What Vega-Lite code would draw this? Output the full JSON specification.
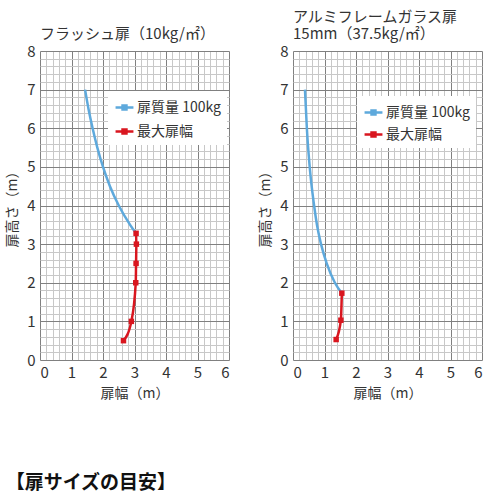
{
  "$schema": "https://vega.github.io/schema/vega-lite/v6.json",
  "background": "white",
  "padding": {"left": 5, "top": 10, "right": 2, "bottom": 5},
  "config": {
    "font": "Noto Sans CJK JP",
    "view": {"stroke": null},
    "axis": {
      "labelFont": "Noto Sans CJK JP",
      "titleFont": "Noto Sans CJK JP",
      "labelFontSize": 15,
      "titleFontSize": 14,
      "labelColor": "#333",
      "titleColor": "#333",
      "titleFontWeight": "normal",
      "ticks": false,
      "domain": false,
      "labelOverlap": false
    },
    "title": {"font": "Noto Sans CJK JP", "fontSize": 15, "fontWeight": "normal", "color": "#333", "anchor": "start", "frame": "group", "lineHeight": 17},
    "legend": {"labelFont": "Noto Sans CJK JP", "labelFontSize": 14, "labelColor": "#333"}
  },
  "title": {
    "text": "【扉サイズの目安】",
    "orient": "bottom",
    "anchor": "start",
    "frame": "bounds",
    "offset": 74,
    "fontSize": 19,
    "fontWeight": "bold",
    "color": "#111"
  },
  "datasets": {
    "doors": [
      {"panel": "flush", "series": "扉質量 100kg", "w": 1.43, "h": 7.0},
      {"panel": "flush", "series": "扉質量 100kg", "w": 1.54, "h": 6.5},
      {"panel": "flush", "series": "扉質量 100kg", "w": 1.67, "h": 6.0},
      {"panel": "flush", "series": "扉質量 100kg", "w": 1.82, "h": 5.5},
      {"panel": "flush", "series": "扉質量 100kg", "w": 2.0, "h": 5.0},
      {"panel": "flush", "series": "扉質量 100kg", "w": 2.22, "h": 4.5},
      {"panel": "flush", "series": "扉質量 100kg", "w": 2.5, "h": 4.0},
      {"panel": "flush", "series": "扉質量 100kg", "w": 2.86, "h": 3.5},
      {"panel": "flush", "series": "扉質量 100kg", "w": 3.05, "h": 3.28},
      {"panel": "flush", "series": "最大扉幅", "w": 3.05, "h": 3.28},
      {"panel": "flush", "series": "最大扉幅", "w": 3.06, "h": 3.0},
      {"panel": "flush", "series": "最大扉幅", "w": 3.05, "h": 2.5},
      {"panel": "flush", "series": "最大扉幅", "w": 3.04, "h": 2.0},
      {"panel": "flush", "series": "最大扉幅", "w": 2.9, "h": 1.0},
      {"panel": "flush", "series": "最大扉幅", "w": 2.65, "h": 0.5},
      {"panel": "glass", "series": "扉質量 100kg", "w": 0.38, "h": 7.0},
      {"panel": "glass", "series": "扉質量 100kg", "w": 0.44, "h": 6.0},
      {"panel": "glass", "series": "扉質量 100kg", "w": 0.53, "h": 5.0},
      {"panel": "glass", "series": "扉質量 100kg", "w": 0.67, "h": 4.0},
      {"panel": "glass", "series": "扉質量 100kg", "w": 0.76, "h": 3.5},
      {"panel": "glass", "series": "扉質量 100kg", "w": 0.89, "h": 3.0},
      {"panel": "glass", "series": "扉質量 100kg", "w": 1.07, "h": 2.5},
      {"panel": "glass", "series": "扉質量 100kg", "w": 1.33, "h": 2.0},
      {"panel": "glass", "series": "扉質量 100kg", "w": 1.55, "h": 1.73},
      {"panel": "glass", "series": "最大扉幅", "w": 1.55, "h": 1.73},
      {"panel": "glass", "series": "最大扉幅", "w": 1.52, "h": 1.03},
      {"panel": "glass", "series": "最大扉幅", "w": 1.37, "h": 0.53}
    ]
  },
  "spacing": 29,
  "resolve": {"scale": {"color": "independent"}, "legend": {"color": "independent"}},
  "hconcat": [
    {
      "width": 189,
      "height": 309,
      "title": {"text": [" ", "フラッシュ扉（10kg/㎡）"], "offset": 2},
      "data": {"name": "doors"},
      "transform": [{"filter": "datum.panel === 'flush'"}],
      "encoding": {
        "x": {
          "field": "w", "type": "quantitative",
          "scale": {"domain": [0, 6], "nice": false},
          "axis": {
            "title": "扉幅（m）",
            "values": [0,0.2,0.4,0.6,0.8,1,1.2,1.4,1.6,1.8,2,2.2,2.4,2.6,2.8,3,3.2,3.4,3.6,3.8,4,4.2,4.4,4.6,4.8,5,5.2,5.4,5.6,5.8,6],
            "labelExpr": "datum.value % 1 === 0 ? '' + datum.value : ''",
            "gridColor": {"condition": {"test": "datum.value % 1 === 0", "value": "#808080"}, "value": "#c8c8c8"},
            "gridOpacity": 1,
            "labelPadding": 5,
            "titlePadding": 6
          }
        },
        "y": {
          "field": "h", "type": "quantitative",
          "scale": {"domain": [0, 8], "nice": false},
          "axis": {
            "title": "扉高さ（m）",
            "values": [0,0.2,0.4,0.6,0.8,1,1.2,1.4,1.6,1.8,2,2.2,2.4,2.6,2.8,3,3.2,3.4,3.6,3.8,4,4.2,4.4,4.6,4.8,5,5.2,5.4,5.6,5.8,6,6.2,6.4,6.6,6.8,7,7.2,7.4,7.6,7.8,8],
            "labelExpr": "datum.value % 1 === 0 ? '' + datum.value : ''",
            "gridColor": {"condition": {"test": "datum.value % 1 === 0", "value": "#808080"}, "value": "#c8c8c8"},
            "gridOpacity": 1,
            "labelPadding": 5,
            "titlePadding": 7
          }
        },
        "color": {
          "field": "series", "type": "nominal",
          "scale": {"domain": ["扉質量 100kg", "最大扉幅"], "range": ["#5ea9dc", "#d9161f"]},
          "legend": {
            "title": null, "orient": "none", "legendX": 68, "legendY": 40,
            "fillColor": "white", "padding": 6, "rowPadding": 6,
            "symbolType": "M-1,0H1M-0.22,-0.22H0.22V0.22H-0.22Z",
            "symbolSize": 320, "symbolStrokeWidth": 2.5, "labelOffset": 2
          }
        },
        "order": {"field": "h", "sort": "descending"}
      },
      "layer": [
        {"mark": {"type": "line", "interpolate": "monotone", "strokeWidth": 2.5}},
        {
          "transform": [{"filter": "datum.series === '最大扉幅'"}],
          "mark": {"type": "point", "shape": "square", "filled": true, "size": 30, "opacity": 1}
        }
      ]
    },
    {
      "width": 189,
      "height": 309,
      "title": {"text": ["アルミフレームガラス扉", "15mm（37.5kg/㎡）"], "offset": 2},
      "data": {"name": "doors"},
      "transform": [{"filter": "datum.panel === 'glass'"}],
      "encoding": {
        "x": {
          "field": "w", "type": "quantitative",
          "scale": {"domain": [0, 6], "nice": false},
          "axis": {
            "title": "扉幅（m）",
            "values": [0,0.2,0.4,0.6,0.8,1,1.2,1.4,1.6,1.8,2,2.2,2.4,2.6,2.8,3,3.2,3.4,3.6,3.8,4,4.2,4.4,4.6,4.8,5,5.2,5.4,5.6,5.8,6],
            "labelExpr": "datum.value % 1 === 0 ? '' + datum.value : ''",
            "gridColor": {"condition": {"test": "datum.value % 1 === 0", "value": "#808080"}, "value": "#c8c8c8"},
            "gridOpacity": 1,
            "labelPadding": 5,
            "titlePadding": 6
          }
        },
        "y": {
          "field": "h", "type": "quantitative",
          "scale": {"domain": [0, 8], "nice": false},
          "axis": {
            "title": "扉高さ（m）",
            "values": [0,0.2,0.4,0.6,0.8,1,1.2,1.4,1.6,1.8,2,2.2,2.4,2.6,2.8,3,3.2,3.4,3.6,3.8,4,4.2,4.4,4.6,4.8,5,5.2,5.4,5.6,5.8,6,6.2,6.4,6.6,6.8,7,7.2,7.4,7.6,7.8,8],
            "labelExpr": "datum.value % 1 === 0 ? '' + datum.value : ''",
            "gridColor": {"condition": {"test": "datum.value % 1 === 0", "value": "#808080"}, "value": "#c8c8c8"},
            "gridOpacity": 1,
            "labelPadding": 5,
            "titlePadding": 7
          }
        },
        "color": {
          "field": "series", "type": "nominal",
          "scale": {"domain": ["扉質量 100kg", "最大扉幅"], "range": ["#5ea9dc", "#d9161f"]},
          "legend": {
            "title": null, "orient": "none", "legendX": 64, "legendY": 45,
            "fillColor": "white", "padding": 6, "rowPadding": 4,
            "symbolType": "M-1,0H1M-0.22,-0.22H0.22V0.22H-0.22Z",
            "symbolSize": 320, "symbolStrokeWidth": 2.5, "labelOffset": 2
          }
        },
        "order": {"field": "h", "sort": "descending"}
      },
      "layer": [
        {"mark": {"type": "line", "interpolate": "monotone", "strokeWidth": 2.5}},
        {
          "transform": [{"filter": "datum.series === '最大扉幅'"}],
          "mark": {"type": "point", "shape": "square", "filled": true, "size": 30, "opacity": 1}
        }
      ]
    }
  ]
}
